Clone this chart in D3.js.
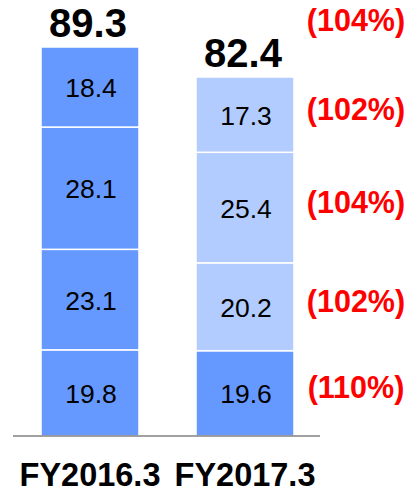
<!DOCTYPE html>
<html><head><meta charset="utf-8">
<script src="https://cdn.jsdelivr.net/npm/d3@7"></script>
<style>body{margin:0;background:#fff}svg{display:block}text{font-family:"Liberation Sans",Arial,sans-serif}</style>
</head><body>
<svg id="c" width="410" height="492"></svg>
<script>
const categories = ["FY2016.3", "FY2017.3"];
// segments bottom to top
const seg1 = [19.8, 19.6];
const seg2 = [23.1, 20.2];
const seg3 = [28.1, 25.4];
const seg4 = [18.4, 17.3];
const totals = [89.3, 82.4];
const segPct = ["(110%)", "(102%)", "(104%)", "(102%)"];
const totalPct = "(104%)";

const series = [seg1, seg2, seg3, seg4];
const rows = categories.map((c, i) => ({cat: c, s0: seg1[i], s1: seg2[i], s2: seg3[i], s3: seg4[i]}));
const stack = d3.stack().keys(["s0", "s1", "s2", "s3"])(rows);

const svg = d3.select("#c");
const x = d3.scaleBand().domain(categories).range([12.5, 322.5]).paddingInner(0.368).paddingOuter(0.184);
const ymax = d3.max(rows, r => r.s0 + r.s1 + r.s2 + r.s3);
const y = d3.scaleLinear().domain([0, ymax]).range([436, 47]);

const dark = "#6699ff", light = "#b3ccff";
const colorFor = (si, ci) => (ci === 0 || si === 0) ? dark : light;

stack.forEach((layer, si) => {
  svg.append("g").selectAll("rect").data(layer).join("rect")
    .attr("x", d => x(d.data.cat))
    .attr("width", x.bandwidth())
    .attr("y", d => y(d[1]))
    .attr("height", d => y(d[0]) - y(d[1]))
    .attr("fill", (d, ci) => colorFor(si, ci))
    .attr("stroke", "#fff").attr("stroke-width", 1.5);
  svg.append("g").selectAll("text").data(layer).join("text")
    .attr("x", d => x(d.data.cat) + x.bandwidth() / 2 + 1)
    .attr("y", d => (y(d[0]) + y(d[1])) / 2 + 10)
    .attr("text-anchor", "middle")
    .attr("font-size", 26.5)
    .attr("fill", "#000")
    .text((d, ci) => series[si][ci].toFixed(1));
});

// axis baseline
svg.append("line").attr("x1", 13).attr("x2", 320).attr("y1", y(0)).attr("y2", y(0))
  .attr("stroke", "#808080").attr("stroke-width", 1.5);

// totals
svg.append("g").selectAll("text").data(rows).join("text")
  .attr("x", d => x(d.cat) + x.bandwidth() / 2 - 2)
  .attr("y", d => y(d.s0 + d.s1 + d.s2 + d.s3) - 10)
  .attr("text-anchor", "middle").attr("font-weight", "bold").attr("font-size", 40)
  .attr("fill", "#000")
  .text((d, i) => totals[i].toFixed(1));

// percentages next to second bar
const last = categories.length - 1;
svg.append("g").selectAll("text").data(stack).join("text")
  .attr("x", 356)
  .attr("y", l => (y(l[last][0]) + y(l[last][1])) / 2 + 5)
  .attr("text-anchor", "middle").attr("font-weight", "bold").attr("font-size", 30.5)
  .attr("fill", "#ff0000")
  .text((l, i) => segPct[i]);
svg.append("text").attr("x", 356).attr("y", 31)
  .attr("text-anchor", "middle").attr("font-weight", "bold").attr("font-size", 30.5)
  .attr("fill", "#ff0000").text(totalPct);

// category labels
svg.append("g").selectAll("text").data(categories).join("text")
  .attr("x", d => x(d) + x.bandwidth() / 2)
  .attr("y", 486)
  .attr("text-anchor", "middle").attr("font-weight", "bold").attr("font-size", 32.5)
  .attr("fill", "#000")
  .text(d => d);
</script>
</body></html>
